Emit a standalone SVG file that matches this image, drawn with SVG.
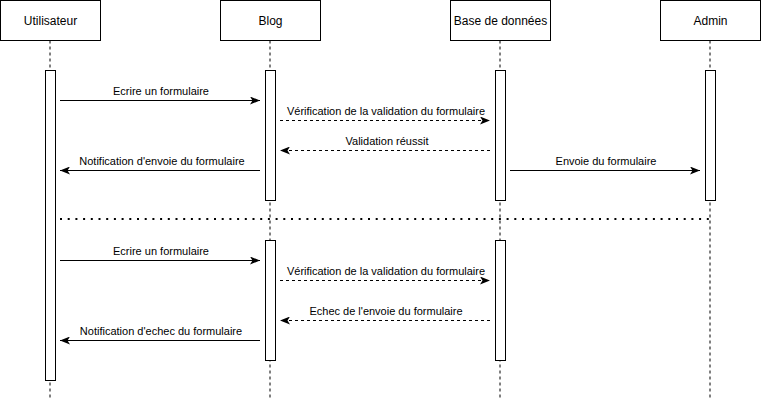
<svg xmlns="http://www.w3.org/2000/svg" width="761" height="401" viewBox="0 0 761 401">
<style>
.box{fill:#fff;stroke:#000;stroke-width:1}
.life{stroke:#000;stroke-width:1;stroke-dasharray:3 3;fill:none}
.act{fill:#fff;stroke:#000;stroke-width:1}
.hdr{font-family:"Liberation Sans",Arial,Helvetica,sans-serif;font-size:12px;fill:#000;text-anchor:middle}
.lbl{font-family:"Liberation Sans",Arial,Helvetica,sans-serif;font-size:11px;fill:#000;text-anchor:middle}
.msg{stroke:#000;stroke-width:1;fill:none}
.ret{stroke:#000;stroke-width:1;fill:none;stroke-dasharray:3 3}
.sep{stroke:#000;stroke-width:2;fill:none;stroke-dasharray:2 5.7}
</style>
<defs>
<marker id="ah" viewBox="0 0 10 8" refX="10" refY="4" markerWidth="10" markerHeight="8" markerUnits="userSpaceOnUse" orient="auto">
<path d="M0,0 L10,4 L0,8 L2.5,4 Z" fill="#000"/>
</marker>
</defs>
<rect width="761" height="401" fill="#fff"/>
<g id="lifelines">
<line class="life" x1="50" y1="40.5" x2="50" y2="400"/>
<line class="life" x1="270" y1="40.5" x2="270" y2="400"/>
<line class="life" x1="500" y1="40.5" x2="500" y2="400"/>
<line class="life" x1="710" y1="40.5" x2="710" y2="400"/>
</g>
<g id="node-utilisateur">
<rect class="box" x="0.5" y="0.5" width="100" height="40"/>
<text class="hdr" x="50.5" y="24.5">Utilisateur</text>
<rect class="act" x="45.5" y="70.5" width="10" height="310"/>
</g>
<g id="node-blog">
<rect class="box" x="220.5" y="0.5" width="100" height="40"/>
<text class="hdr" x="270.5" y="24.5">Blog</text>
<rect class="act" x="265.5" y="70.5" width="10" height="130"/>
<rect class="act" x="265.5" y="240.5" width="10" height="120"/>
</g>
<g id="node-bdd">
<rect class="box" x="450.5" y="0.5" width="100" height="40"/>
<text class="hdr" x="500.5" y="24.5">Base de données</text>
<rect class="act" x="495.5" y="70.5" width="10" height="130"/>
<rect class="act" x="495.5" y="240.5" width="10" height="120"/>
</g>
<g id="node-admin">
<rect class="box" x="660.5" y="0.5" width="100" height="40"/>
<text class="hdr" x="710.5" y="24.5">Admin</text>
<rect class="act" x="705.5" y="70.5" width="10" height="130"/>
</g>
<g id="connectors">
<line class="msg" x1="60" y1="100.5" x2="260" y2="100.5" marker-end="url(#ah)"/>
<text class="lbl" x="161" y="95">Ecrire un formulaire</text>
<line class="ret" x1="280" y1="120.5" x2="490" y2="120.5" marker-end="url(#ah)"/>
<text class="lbl" x="386" y="115">Vérification de la validation du formulaire</text>
<line class="ret" x1="490" y1="150.5" x2="280" y2="150.5" marker-end="url(#ah)"/>
<text class="lbl" x="387" y="145">Validation réussit</text>
<line class="msg" x1="260" y1="170.5" x2="60" y2="170.5" marker-end="url(#ah)"/>
<text class="lbl" x="162" y="165">Notification d'envoie du formulaire</text>
<line class="msg" x1="510" y1="170.5" x2="700" y2="170.5" marker-end="url(#ah)"/>
<text class="lbl" x="606" y="165">Envoie du formulaire</text>
<line class="sep" x1="60" y1="219" x2="710" y2="219"/>
<line class="msg" x1="60" y1="260.5" x2="260" y2="260.5" marker-end="url(#ah)"/>
<text class="lbl" x="161" y="255">Ecrire un formulaire</text>
<line class="ret" x1="280" y1="280.5" x2="490" y2="280.5" marker-end="url(#ah)"/>
<text class="lbl" x="386" y="275">Vérification de la validation du formulaire</text>
<line class="ret" x1="490" y1="320.5" x2="280" y2="320.5" marker-end="url(#ah)"/>
<text class="lbl" x="386" y="315">Echec de l'envoie du formulaire</text>
<line class="msg" x1="260" y1="340.5" x2="60" y2="340.5" marker-end="url(#ah)"/>
<text class="lbl" x="161" y="335">Notification d'echec du formulaire</text>
</g>
</svg>
